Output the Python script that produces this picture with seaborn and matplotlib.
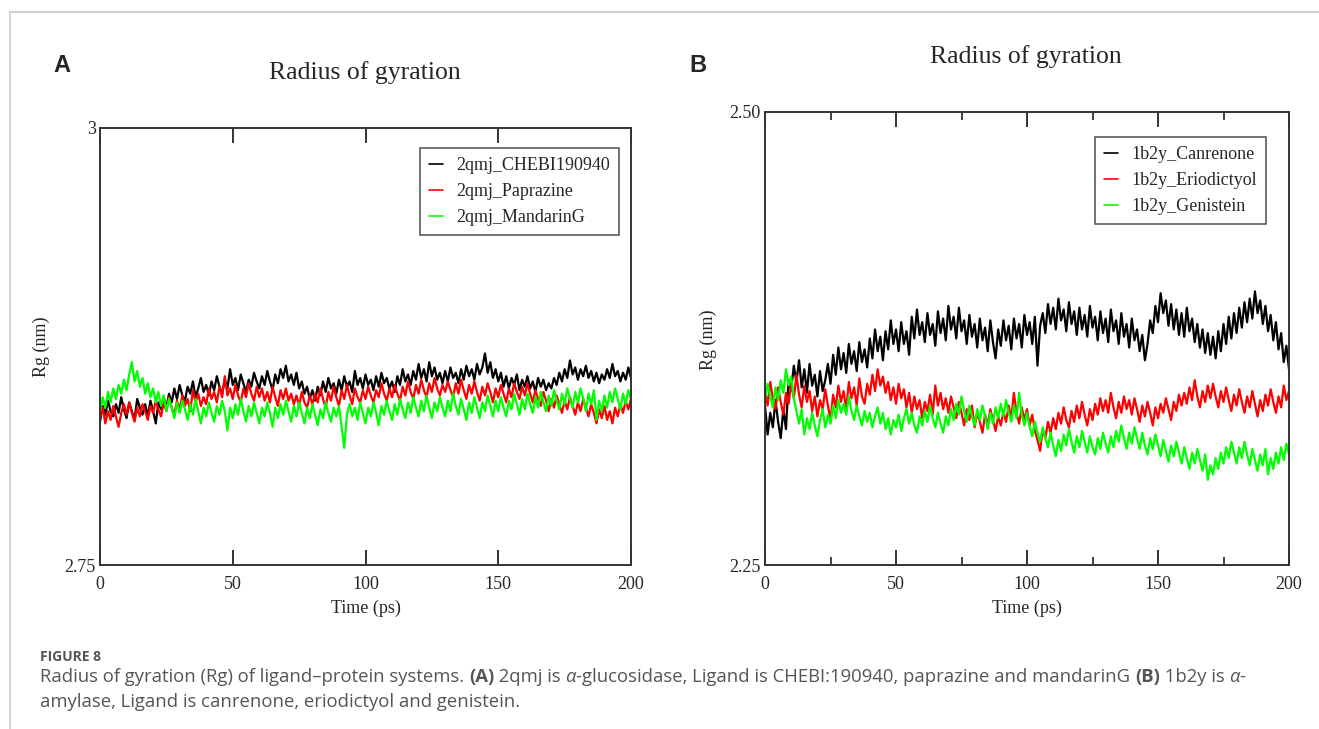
import numpy as np
import pandas as pd
import matplotlib
matplotlib.use("Agg")
import matplotlib.pyplot as plt
from matplotlib.lines import Line2D
import seaborn as sns

# ---------------- data ----------------
time_ps = list(range(0, 201))

rg_2qmj_chebi = [
    2.832, 2.841, 2.836, 2.844, 2.838, 2.835, 2.842, 2.837, 2.846, 2.839,
    2.834, 2.843, 2.838, 2.833, 2.845, 2.840, 2.836, 2.842, 2.835, 2.844,
    2.838, 2.831, 2.843, 2.839, 2.846, 2.840, 2.848, 2.843, 2.851, 2.845,
    2.853, 2.847, 2.844, 2.852, 2.848, 2.855, 2.846, 2.851, 2.857, 2.849,
    2.853, 2.847, 2.855, 2.850, 2.858, 2.852, 2.848, 2.856, 2.851, 2.862,
    2.853, 2.857, 2.850, 2.859, 2.854, 2.849, 2.856, 2.852, 2.860, 2.855,
    2.851, 2.858, 2.853, 2.861, 2.855, 2.850, 2.859, 2.854, 2.862, 2.857,
    2.864, 2.855, 2.859, 2.853, 2.860, 2.851, 2.855, 2.848, 2.852, 2.845,
    2.850, 2.844, 2.852, 2.847, 2.855, 2.849, 2.857, 2.851, 2.854, 2.848,
    2.856, 2.850, 2.858, 2.852, 2.855, 2.849, 2.861, 2.853, 2.857, 2.851,
    2.859, 2.853, 2.856, 2.850, 2.858, 2.852, 2.860, 2.854, 2.857, 2.851,
    2.855, 2.849, 2.858, 2.853, 2.862, 2.855, 2.859, 2.853, 2.861, 2.856,
    2.865, 2.857, 2.862, 2.855, 2.866, 2.858, 2.863, 2.856, 2.860, 2.854,
    2.861, 2.855, 2.863, 2.857, 2.860, 2.854, 2.862, 2.856, 2.864, 2.858,
    2.862, 2.856, 2.865, 2.859, 2.863, 2.871, 2.860, 2.866, 2.857, 2.862,
    2.855, 2.860, 2.852, 2.858, 2.851, 2.857, 2.853, 2.859, 2.850, 2.856,
    2.852, 2.858, 2.851, 2.855, 2.849, 2.857, 2.852, 2.856, 2.850, 2.854,
    2.851, 2.857, 2.853, 2.860, 2.855, 2.862, 2.857, 2.867, 2.859, 2.863,
    2.856, 2.862, 2.858, 2.864, 2.857, 2.861, 2.855, 2.860, 2.854, 2.859,
    2.856, 2.862, 2.857, 2.865, 2.858, 2.861, 2.855, 2.860, 2.856, 2.863,
    2.857,
]

rg_2qmj_paprazine = [
    2.834, 2.840, 2.831, 2.838, 2.833, 2.841, 2.835, 2.829, 2.837, 2.842,
    2.836, 2.843, 2.837, 2.832, 2.840, 2.835, 2.842, 2.838, 2.833, 2.841,
    2.837, 2.844, 2.839, 2.835, 2.843, 2.838, 2.846, 2.840, 2.836, 2.844,
    2.839, 2.847, 2.841, 2.845, 2.838, 2.850, 2.843, 2.848, 2.841, 2.846,
    2.842, 2.851, 2.845, 2.849, 2.843, 2.852, 2.846, 2.858, 2.847, 2.851,
    2.845, 2.853, 2.847, 2.843, 2.851, 2.846, 2.854, 2.848, 2.844, 2.852,
    2.846, 2.851, 2.844, 2.849, 2.843, 2.852, 2.846, 2.841, 2.850, 2.845,
    2.851, 2.844, 2.848, 2.842, 2.847, 2.841, 2.849, 2.843, 2.840, 2.847,
    2.842, 2.848, 2.843, 2.851, 2.845, 2.840, 2.849, 2.844, 2.852, 2.846,
    2.841, 2.850, 2.845, 2.853, 2.847, 2.842, 2.851, 2.846, 2.843, 2.850,
    2.845, 2.852, 2.847, 2.843, 2.850, 2.846, 2.854, 2.848, 2.844, 2.851,
    2.846, 2.853, 2.848, 2.844, 2.852, 2.847, 2.855, 2.849, 2.845, 2.853,
    2.848, 2.856, 2.850, 2.846, 2.854, 2.849, 2.857, 2.851, 2.847, 2.853,
    2.849, 2.855, 2.850, 2.846, 2.854, 2.848, 2.856, 2.850, 2.845, 2.853,
    2.848, 2.855, 2.849, 2.844, 2.852, 2.847, 2.854, 2.849, 2.843, 2.851,
    2.846, 2.853, 2.848, 2.843, 2.851, 2.846, 2.854, 2.849, 2.845, 2.852,
    2.847, 2.854, 2.848, 2.843, 2.850, 2.845, 2.841, 2.849, 2.844, 2.838,
    2.845, 2.840, 2.847, 2.842, 2.837, 2.844, 2.839, 2.846, 2.841, 2.836,
    2.843, 2.838, 2.845, 2.840, 2.835, 2.842, 2.837, 2.831, 2.839, 2.834,
    2.841, 2.833, 2.838, 2.831, 2.840, 2.835, 2.842, 2.837, 2.844, 2.839,
    2.845,
]

rg_2qmj_mandarinG = [
    2.838, 2.846, 2.840, 2.849, 2.843, 2.851, 2.845, 2.853, 2.848, 2.856,
    2.850, 2.859, 2.866, 2.855, 2.861, 2.852, 2.857, 2.848, 2.854, 2.846,
    2.851, 2.843, 2.849, 2.841, 2.847, 2.838, 2.845, 2.840, 2.834, 2.843,
    2.837, 2.844, 2.839, 2.833, 2.842, 2.836, 2.845, 2.838, 2.831, 2.840,
    2.835, 2.843, 2.837, 2.832, 2.841, 2.836, 2.844, 2.838, 2.827, 2.840,
    2.834, 2.842, 2.836, 2.845, 2.838, 2.832, 2.841, 2.835, 2.843, 2.837,
    2.831, 2.840, 2.835, 2.843, 2.837, 2.829, 2.840, 2.834, 2.842, 2.836,
    2.844, 2.838, 2.832, 2.841, 2.835, 2.843, 2.837, 2.831, 2.840, 2.834,
    2.842, 2.836, 2.830, 2.839, 2.834, 2.843, 2.837, 2.832, 2.840, 2.835,
    2.841, 2.829, 2.817, 2.836, 2.842, 2.835, 2.840, 2.833, 2.843, 2.837,
    2.831, 2.840, 2.835, 2.843, 2.837, 2.830, 2.841, 2.836, 2.844, 2.838,
    2.833, 2.842, 2.836, 2.845, 2.839, 2.834, 2.843, 2.837, 2.846, 2.840,
    2.835, 2.844, 2.838, 2.847, 2.840, 2.834, 2.843, 2.838, 2.846, 2.840,
    2.835, 2.844, 2.838, 2.848, 2.841, 2.836, 2.845, 2.839, 2.833, 2.843,
    2.837, 2.846, 2.840, 2.834, 2.843, 2.838, 2.847, 2.841, 2.835, 2.844,
    2.838, 2.846, 2.840, 2.835, 2.844, 2.839, 2.848, 2.842, 2.836, 2.845,
    2.839, 2.848, 2.842, 2.837, 2.846, 2.840, 2.849, 2.843, 2.838, 2.847,
    2.841, 2.850, 2.844, 2.839, 2.848, 2.842, 2.851, 2.845, 2.840, 2.849,
    2.843, 2.851, 2.845, 2.838, 2.848, 2.842, 2.850, 2.833, 2.844, 2.838,
    2.847, 2.840, 2.849, 2.843, 2.851, 2.845, 2.839, 2.848, 2.842, 2.850,
    2.845,
]

rg_1b2y_canrenone = [
    2.338, 2.322, 2.334, 2.326, 2.341, 2.329, 2.320, 2.336, 2.325, 2.352,
    2.347, 2.360, 2.351, 2.363, 2.348, 2.358, 2.345, 2.361, 2.349, 2.355,
    2.343, 2.357, 2.346, 2.352, 2.361, 2.350, 2.366, 2.355, 2.370, 2.358,
    2.367, 2.356, 2.372, 2.361, 2.368, 2.357, 2.373, 2.362, 2.369, 2.359,
    2.375, 2.364, 2.380, 2.368, 2.376, 2.363, 2.379, 2.369, 2.385, 2.372,
    2.380, 2.368, 2.384, 2.372, 2.379, 2.366, 2.387, 2.375, 2.391, 2.377,
    2.384, 2.373, 2.389, 2.377, 2.383, 2.371, 2.390, 2.378, 2.386, 2.374,
    2.393, 2.380, 2.387, 2.375, 2.392, 2.379, 2.385, 2.372, 2.388, 2.376,
    2.383, 2.370, 2.386, 2.374, 2.381, 2.368, 2.385, 2.373, 2.364, 2.380,
    2.371, 2.385, 2.374, 2.382, 2.369, 2.386, 2.375, 2.383, 2.370, 2.388,
    2.377, 2.384, 2.372, 2.387, 2.360, 2.382, 2.389, 2.378, 2.394, 2.383,
    2.392, 2.380, 2.397, 2.385, 2.391, 2.379, 2.395, 2.383, 2.390, 2.377,
    2.392, 2.380, 2.388, 2.376, 2.393, 2.381, 2.387, 2.374, 2.390, 2.378,
    2.386, 2.373, 2.391, 2.379, 2.385, 2.372, 2.389, 2.376, 2.383, 2.370,
    2.386, 2.374, 2.380, 2.368, 2.377, 2.363, 2.372, 2.385, 2.378, 2.393,
    2.384, 2.400, 2.389, 2.396, 2.382, 2.394, 2.380, 2.391, 2.377, 2.389,
    2.376, 2.392, 2.379, 2.386, 2.373, 2.383, 2.370, 2.380, 2.367, 2.378,
    2.366, 2.376, 2.364, 2.379, 2.368, 2.383, 2.372, 2.387, 2.375, 2.389,
    2.378, 2.392, 2.381, 2.395, 2.384, 2.397, 2.386, 2.401, 2.389, 2.396,
    2.383, 2.393, 2.379, 2.388, 2.374, 2.384, 2.369, 2.378, 2.362, 2.371,
    2.358,
]

rg_1b2y_eriodictyol = [
    2.347, 2.338, 2.351, 2.342, 2.336, 2.348, 2.340, 2.333, 2.345, 2.339,
    2.350, 2.342, 2.355, 2.344, 2.337, 2.349, 2.340, 2.346, 2.335, 2.343,
    2.332, 2.341, 2.336, 2.347, 2.338, 2.330, 2.344, 2.337, 2.349, 2.340,
    2.346, 2.336, 2.351, 2.342, 2.348, 2.338, 2.353, 2.343, 2.339, 2.350,
    2.344, 2.355, 2.346, 2.358, 2.349, 2.354, 2.345, 2.351, 2.341, 2.348,
    2.339, 2.350, 2.342, 2.347, 2.337, 2.345, 2.334, 2.343, 2.336, 2.341,
    2.331, 2.340, 2.335, 2.344, 2.333, 2.349, 2.338, 2.345, 2.336, 2.342,
    2.334, 2.343, 2.337, 2.331, 2.340, 2.334, 2.327, 2.336, 2.330, 2.338,
    2.326, 2.334, 2.329, 2.323, 2.333, 2.327, 2.336, 2.330, 2.324, 2.332,
    2.327, 2.335, 2.329, 2.338, 2.331, 2.345, 2.334, 2.328, 2.337, 2.330,
    2.336, 2.327, 2.333, 2.324, 2.319, 2.313, 2.325, 2.320, 2.329, 2.323,
    2.331, 2.325, 2.334, 2.328, 2.337, 2.330, 2.326, 2.335, 2.329, 2.338,
    2.331, 2.340, 2.333, 2.327, 2.336, 2.330, 2.339, 2.333, 2.342, 2.335,
    2.341, 2.334, 2.345, 2.337, 2.331, 2.340, 2.334, 2.343, 2.336, 2.341,
    2.333, 2.342, 2.336, 2.329, 2.338, 2.332, 2.340, 2.334, 2.327, 2.337,
    2.331, 2.339, 2.334, 2.342, 2.336, 2.330, 2.340, 2.335, 2.344, 2.338,
    2.345, 2.339, 2.348, 2.341, 2.352, 2.343, 2.337, 2.346, 2.340, 2.349,
    2.342, 2.350, 2.343, 2.337, 2.346, 2.340, 2.348, 2.341, 2.335, 2.344,
    2.338, 2.347, 2.340, 2.334, 2.343, 2.337, 2.346, 2.339, 2.332, 2.341,
    2.335, 2.344, 2.338, 2.347, 2.340, 2.334, 2.343, 2.337, 2.349, 2.341,
    2.346,
]

rg_1b2y_genistein = [
    2.341, 2.350, 2.343, 2.337, 2.348, 2.341, 2.352, 2.345, 2.358, 2.349,
    2.354, 2.342, 2.335, 2.328, 2.336, 2.322, 2.331, 2.325, 2.334, 2.327,
    2.321, 2.330, 2.336, 2.326, 2.333, 2.328, 2.338, 2.331, 2.341, 2.334,
    2.339, 2.333, 2.343, 2.335, 2.330, 2.338, 2.332, 2.327, 2.335, 2.329,
    2.334, 2.326, 2.332, 2.337, 2.328, 2.334, 2.325, 2.331, 2.322, 2.330,
    2.326, 2.333, 2.324, 2.331, 2.336, 2.328, 2.334, 2.327, 2.323, 2.332,
    2.327, 2.335, 2.329, 2.338, 2.331, 2.326, 2.334, 2.328, 2.323, 2.332,
    2.327, 2.336, 2.330, 2.339, 2.333, 2.343, 2.335, 2.329, 2.338, 2.332,
    2.327, 2.336, 2.330, 2.338, 2.332, 2.325, 2.334, 2.328, 2.337, 2.331,
    2.339, 2.332, 2.341, 2.334, 2.329, 2.338, 2.331, 2.345, 2.333, 2.327,
    2.334, 2.326, 2.321, 2.329, 2.323, 2.318, 2.326, 2.320, 2.315, 2.323,
    2.316, 2.310, 2.319, 2.313, 2.322, 2.316, 2.325, 2.318, 2.312, 2.321,
    2.315, 2.324, 2.318, 2.312, 2.321, 2.315, 2.311, 2.320, 2.314, 2.323,
    2.317, 2.312, 2.321, 2.315, 2.324, 2.318, 2.327, 2.320, 2.314, 2.323,
    2.317, 2.326, 2.320, 2.314, 2.323, 2.316, 2.311, 2.320, 2.314, 2.322,
    2.316, 2.310, 2.319, 2.313, 2.307, 2.316, 2.310, 2.318, 2.312, 2.306,
    2.315, 2.309, 2.303, 2.312, 2.306, 2.314, 2.308, 2.302, 2.311, 2.297,
    2.305, 2.300, 2.309, 2.303, 2.312, 2.306, 2.315, 2.309, 2.318, 2.312,
    2.306, 2.315, 2.309, 2.318, 2.311, 2.305, 2.314, 2.308, 2.302, 2.311,
    2.305, 2.314, 2.300, 2.309, 2.303, 2.312, 2.306, 2.315, 2.308, 2.317,
    2.311,
]

labels_A = ["2qmj_CHEBI190940", "2qmj_Paprazine", "2qmj_MandarinG"]
labels_B = ["1b2y_Canrenone", "1b2y_Eriodictyol", "1b2y_Genistein"]
series_colors = ["#000000", "#ff0000", "#00ff00"]

x_ticks = [0, 50, 100, 150, 200]
y_ticks_A = [2.75, 3.0]
y_ticklabels_A = ["2.75", "3"]
y_ticks_B = [2.25, 2.50]
y_ticklabels_B = ["2.25", "2.50"]

panel_title = "Radius of gyration"
x_label = "Time (ps)"
y_label = "Rg (nm)"

# ---------------- style ----------------
sns.set_style("white")
serif = ["Liberation Serif", "DejaVu Serif"]
plt.rcParams["font.family"] = serif

W, H = 1319, 729
fig = plt.figure(figsize=(W / 100, H / 100), dpi=100)


def frac_box(l, t, r, b):
    return [l / W, 1 - b / H, (r - l) / W, (b - t) / H]


def long_df(values_list, labels):
    frames = []
    for vals, lab in zip(values_list, labels):
        frames.append(pd.DataFrame({"Time": time_ps, "Rg": vals, "Series": lab}))
    return pd.concat(frames, ignore_index=True)


def draw_panel(ax, df, labels, yticks, yticklabels, minor, legend_box):
    sns.lineplot(data=df, x="Time", y="Rg", hue="Series", hue_order=labels,
                 palette=series_colors, estimator=None, sort=False,
                 linewidth=1.6, ax=ax, legend=False)
    ax.set_xlim(0, 200)
    ax.set_ylim(yticks[0], yticks[1])
    ax.set_xticks(x_ticks)
    ax.set_yticks(yticks)
    ax.set_yticklabels(yticklabels)
    ax.tick_params(axis="x", direction="in", length=11, width=1.3, color="#222222",
                   top=True, bottom=True, labelsize=13, pad=8)
    ax.tick_params(axis="y", length=0, labelsize=13, pad=3)
    if minor:
        ax.set_xticks([25, 75, 125, 175], minor=True)
        ax.tick_params(axis="x", which="minor", direction="in", length=6,
                       width=1.2, color="#222222", top=True, bottom=True)
    for s in ax.spines.values():
        s.set_color("#333333")
        s.set_linewidth(1.4)
    ax.set_xlabel(x_label, fontsize=13, labelpad=5)
    ax.set_ylabel("")
    handles = [Line2D([0], [0], color=c, lw=1.2) for c in series_colors]
    leg = ax.legend(handles, labels, loc="upper left",
                    bbox_to_anchor=legend_box, bbox_transform=fig.transFigure,
                    borderaxespad=0.0,
                    fontsize=13, frameon=True, fancybox=False,
                    handlelength=0.8, handletextpad=0.7, borderpad=0.5,
                    labelspacing=0.5)
    leg.get_frame().set_edgecolor("#222222")
    leg.get_frame().set_linewidth(1.1)
    return ax


axA = fig.add_axes(frac_box(100, 128, 631, 565))
dfA = long_df([rg_2qmj_chebi, rg_2qmj_paprazine, rg_2qmj_mandarinG], labels_A)
draw_panel(axA, dfA, labels_A, y_ticks_A, y_ticklabels_A, False,
           (420 / W, 1 - 148 / H))

axB = fig.add_axes(frac_box(765, 112, 1289, 565))
dfB = long_df([rg_1b2y_canrenone, rg_1b2y_eriodictyol, rg_1b2y_genistein], labels_B)
draw_panel(axB, dfB, labels_B, y_ticks_B, y_ticklabels_B, True,
           (1095 / W, 1 - 137 / H))

# titles and y labels
fig.text(365 / W, 1 - 73 / H, panel_title, ha="center", va="center", fontsize=18.5)
fig.text(1026 / W, 1 - 57 / H, panel_title, ha="center", va="center", fontsize=18.5)
fig.text(41 / W, 1 - 347 / H, y_label, rotation=90, ha="center", va="center", fontsize=13)
fig.text(708 / W, 1 - 340 / H, y_label, rotation=90, ha="center", va="center", fontsize=13)

# panel letters
fig.text(62 / W, 1 - 66 / H, "A", ha="center", va="center", fontsize=17,
         fontweight="bold", family=["Liberation Sans", "DejaVu Sans"])
fig.text(698 / W, 1 - 66 / H, "B", ha="center", va="center", fontsize=17,
         fontweight="bold", family=["Liberation Sans", "DejaVu Sans"])

# page frame lines
fig.add_artist(Line2D([10 / W, 1], [1 - 12 / H, 1 - 12 / H], color="#d0d0d0", lw=1.5))
fig.add_artist(Line2D([10 / W, 10 / W], [0, 1 - 12 / H], color="#d0d0d0", lw=1.2))

# caption
cap_font = ["Open Sans", "DejaVu Sans"]
cap_color = "#555555"
fig.text(40 / W, 1 - 657 / H, "FIGURE 8", ha="left", va="center", fontsize=10,
         color=cap_color, family=cap_font, fontweight="bold")

fig.canvas.draw()
renderer = fig.canvas.get_renderer()


def write_runs(x_px, y_px, runs, size=13.3):
    x = x_px
    for txt, bold, ital in runs:
        t = fig.text(x / W, 1 - y_px / H, txt, ha="left", va="center", fontsize=size,
                     color=cap_color, family=cap_font,
                     fontweight="bold" if bold else "normal",
                     fontstyle="italic" if ital else "normal")
        bb = t.get_window_extent(renderer=renderer)
        x += bb.width


write_runs(40, 677, [
    ("Radius of gyration (Rg) of ligand\u2013protein systems. ", False, False),
    ("(A)", True, False),
    (" 2qmj is ", False, False),
    ("\u03b1", False, True),
    ("-glucosidase, Ligand is CHEBI:190940, paprazine and mandarinG ", False, False),
    ("(B)", True, False),
    (" 1b2y is ", False, False),
    ("\u03b1", False, True),
    ("-", False, False),
])
write_runs(40, 702, [
    ("amylase, Ligand is canrenone, eriodictyol and genistein.", False, False),
])

fig.savefig("out.png", dpi=100, facecolor="white")
